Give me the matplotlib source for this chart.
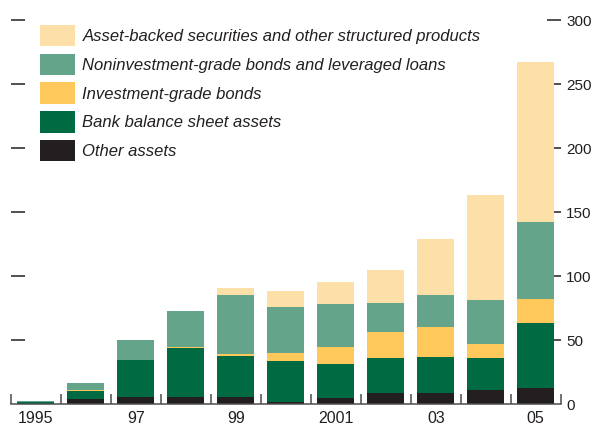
import matplotlib.pyplot as plt
from matplotlib.patches import Patch
import numpy as np

# ---- data (billions) ----
years = ["1995", "96", "97", "98", "99", "2000", "2001", "02", "03", "04", "05"]
tick_labels = ["1995", "", "97", "", "99", "", "2001", "", "03", "", "05"]

other = [0.5, 4.0, 5.7, 5.7, 5.7, 2.0, 4.9, 8.8, 8.8, 11.2, 12.7]
bank = [1.5, 6.3, 28.9, 38.3, 32.0, 31.8, 26.6, 27.4, 28.3, 24.9, 50.8]
inv_grade = [0.0, 0.5, 0.0, 0.9, 1.8, 6.3, 13.4, 20.5, 23.6, 11.1, 18.8]
noninv_grade = [0.5, 5.8, 15.6, 28.1, 46.0, 36.0, 33.8, 22.7, 24.3, 34.4, 59.7]
abs_other = [0.0, 0.0, 0.0, 0.0, 5.4, 12.4, 16.6, 25.2, 44.0, 82.1, 125.2]

series = [
    ("Other assets", other, "#231f20"),
    ("Bank balance sheet assets", bank, "#006a42"),
    ("Investment-grade bonds", inv_grade, "#fec85a"),
    ("Noninvestment-grade bonds and leveraged loans", noninv_grade, "#64a48a"),
    ("Asset-backed securities and other structured products", abs_other, "#fddfa8"),
]

plt.rcParams['font.family'] = ['Liberation Sans', 'DejaVu Sans']

fig = plt.figure(figsize=(5.94, 4.30), dpi=100)
ax = fig.add_axes([0.0185, 0.0598, 0.9255, 0.8932])

x = np.arange(len(years))
bottom = np.zeros(len(years))
for name, vals, col in series:
    ax.bar(x, vals, width=0.74, bottom=bottom, color=col, linewidth=0, zorder=2)
    bottom += np.array(vals)

ax.set_xlim(-0.5, len(years) - 0.5)
ax.set_ylim(0, 300)

# labels on the right (major, no marks); inward marks on both sides (minor, skip 0)
ax.yaxis.remove_overlapping_locs = False
ax.set_yticks(np.arange(0, 301, 50))
ax.set_yticks(np.arange(50, 301, 50), minor=True)
ax.tick_params(axis='y', which='major', length=0, left=False, right=True,
               labelleft=False, labelright=True, labelsize=11, pad=4)
ax.tick_params(axis='y', which='minor', direction='in', length=10, width=1.1,
               color='#231f20', left=True, right=True)

ax.set_xticks(x)
ax.set_xticklabels(tick_labels)
ax.set_xticks(np.arange(-0.5, len(years), 1.0), minor=True)
ax.tick_params(axis='x', which='major', length=0, labelsize=11.5, pad=5)
ax.tick_params(axis='x', which='minor', direction='in', length=7, width=1.1,
               color='#4d4d4d')

for s in ['top', 'left', 'right']:
    ax.spines[s].set_visible(False)
ax.spines['bottom'].set_color('#4d4d4d')
ax.spines['bottom'].set_linewidth(1.1)

for lbl in ax.get_xticklabels() + ax.get_yticklabels():
    lbl.set_color('#231f20')

handles = [Patch(facecolor=c, edgecolor='none', label=n) for n, _, c in reversed(series)]
leg = ax.legend(handles=handles, loc='upper left', bbox_to_anchor=(0.0673, 0.942),
                bbox_transform=fig.transFigure, frameon=False,
                prop={'style': 'italic', 'size': 12},
                handlelength=2.1, handleheight=1.6, handletextpad=0.45,
                labelspacing=0.44, borderpad=0, borderaxespad=0)
for t in leg.get_texts():
    t.set_color('#231f20')

fig.savefig("out.png", dpi=100)
